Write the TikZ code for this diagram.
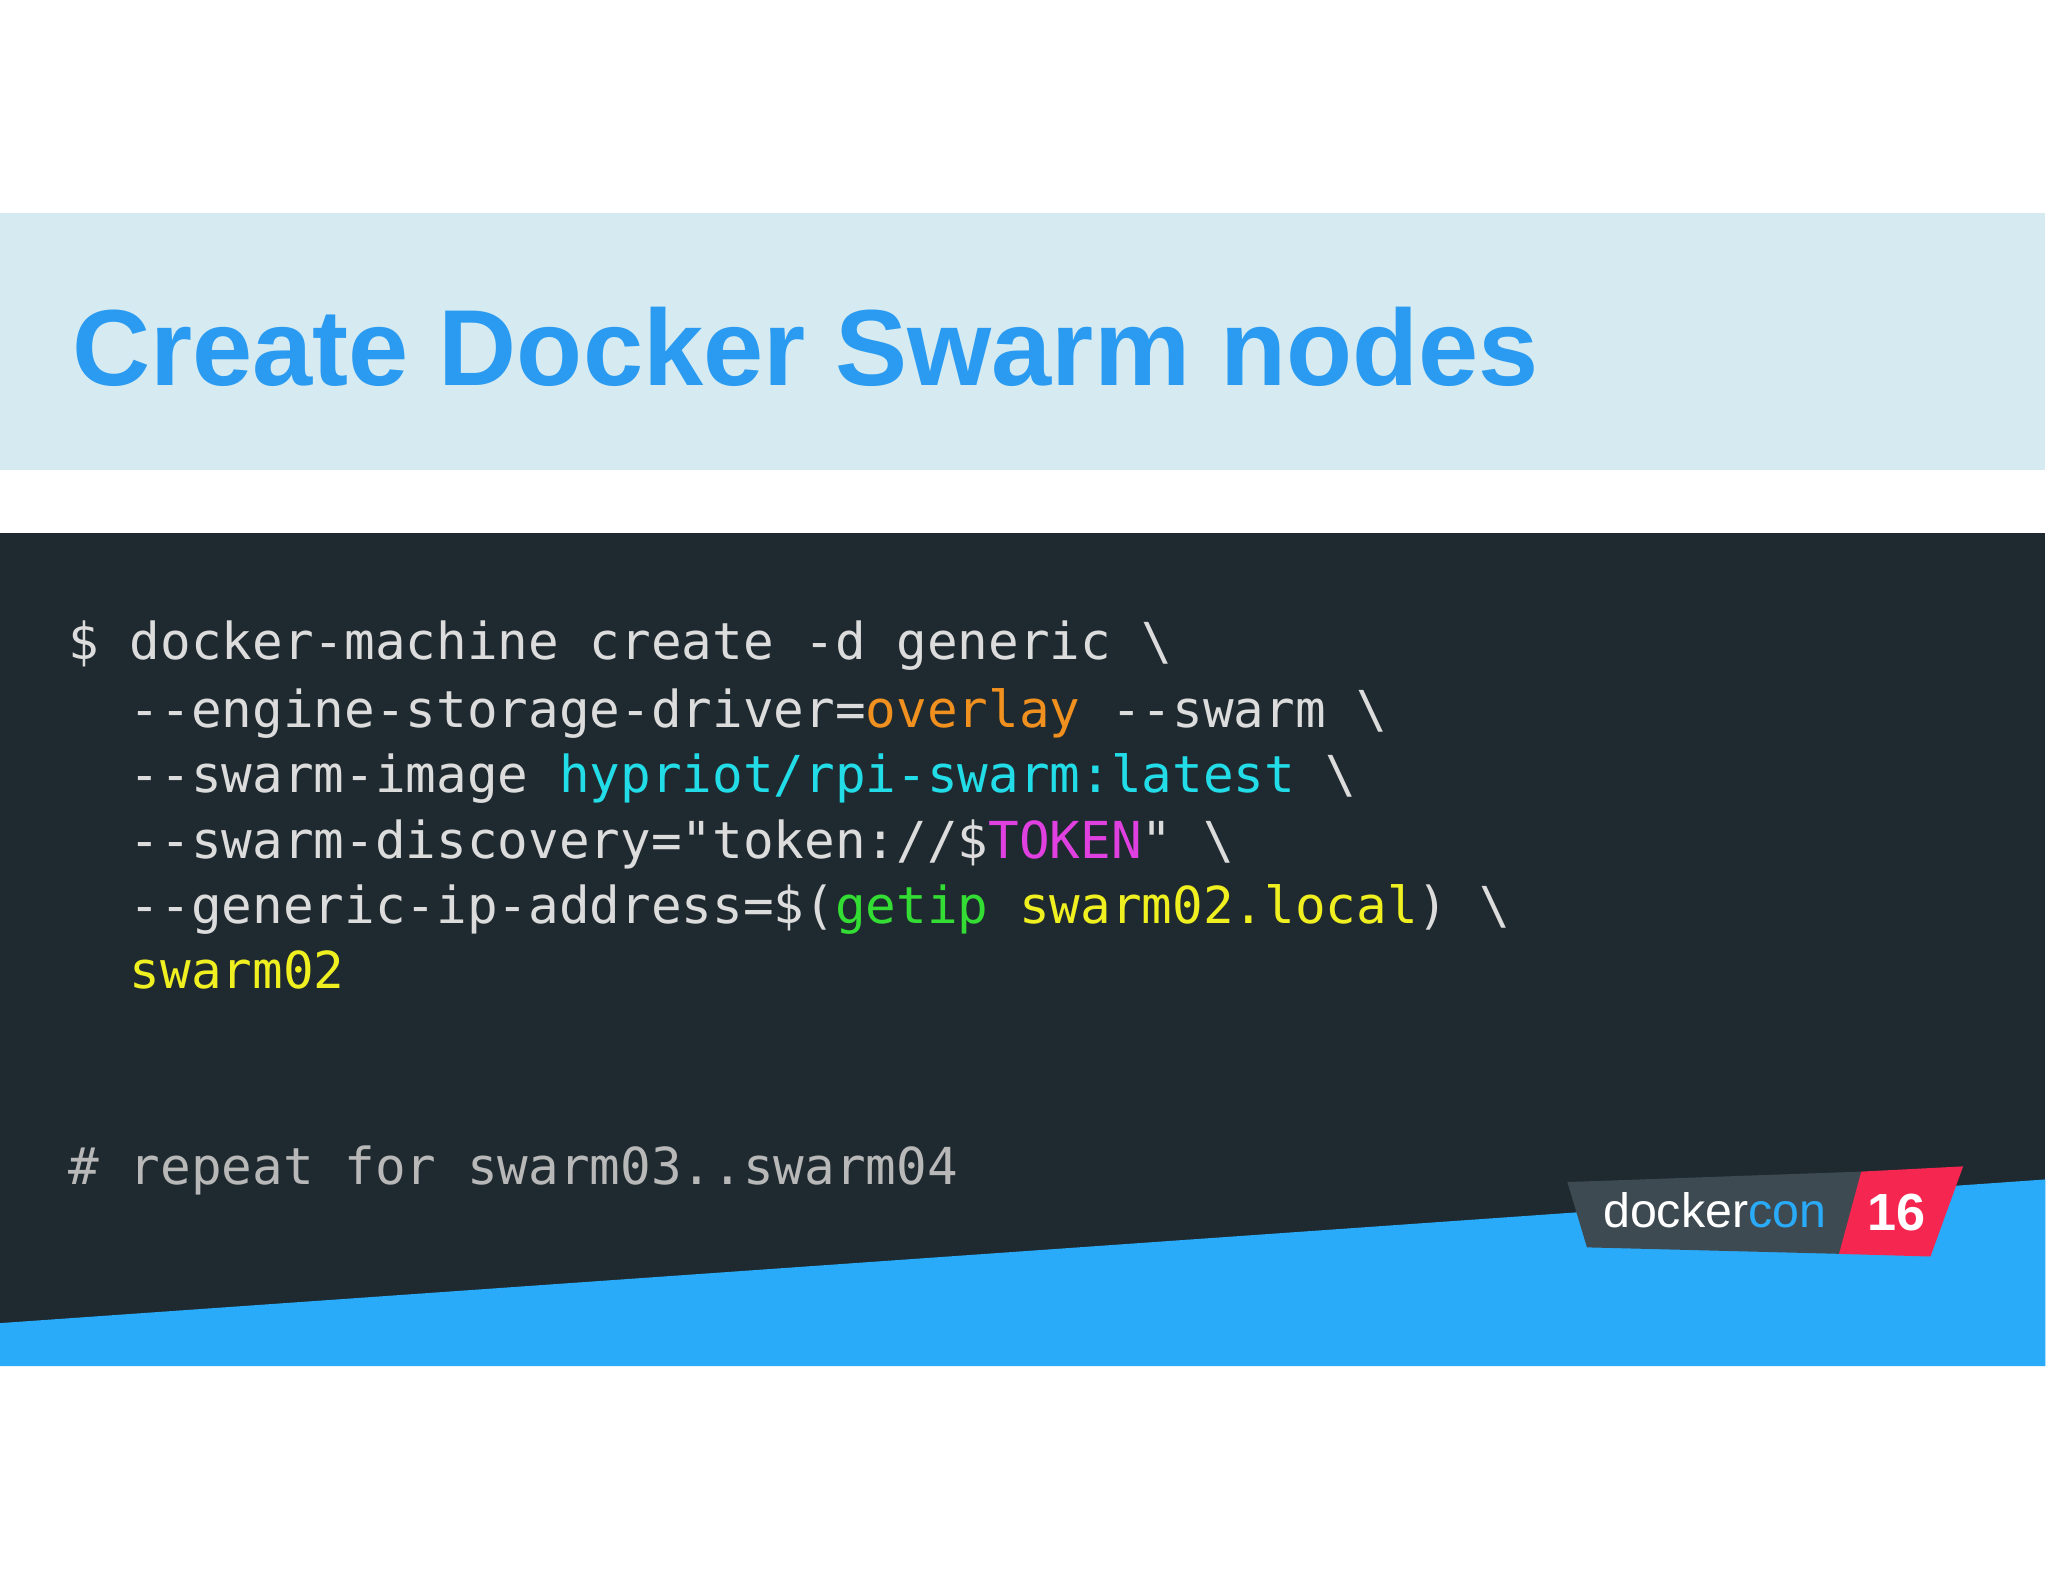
\documentclass[tikz,border=0pt]{standalone}
\usepackage{fontspec}
\setmainfont{Liberation Sans}
\newfontfamily\codefont{DejaVu Sans Mono}
\definecolor{band}{HTML}{D5EAF1}
\definecolor{ttl}{HTML}{2A9BF0}
\definecolor{panel}{HTML}{1F2A30}
\definecolor{blu}{HTML}{29ABF9}
\definecolor{cw}{HTML}{DCDCDC}
\definecolor{cor}{HTML}{F0901E}
\definecolor{ccy}{HTML}{22DDE8}
\definecolor{cmg}{HTML}{E040E0}
\definecolor{cgr}{HTML}{33DD33}
\definecolor{cye}{HTML}{F0F020}
\definecolor{cgy}{HTML}{B8B8B8}
\definecolor{lgray}{HTML}{3E4A52}
\definecolor{lred}{HTML}{F5264F}
\begin{document}
\begin{tikzpicture}[x=0.5pt,y=-0.5pt,
  code/.style={anchor=base west,inner sep=0,font=\codefont\fontsize{19.5}{22}\selectfont,text=cw}]
\useasboundingbox (0,0) rectangle (1568,1211);
\fill[white] (0,0) rectangle (1568,1211);
\fill[band] (0,163) rectangle (1566,360);
\node[anchor=base west,inner sep=0,text=ttl,font=\bfseries\fontsize{41.4}{44}\selectfont] (title) at (55,295) {Create Docker Swarm nodes};
\fill[panel] (0,408) rectangle (1566,1046);
\fill[blu] (0,1013) -- (1566,903) -- (1566,1046) -- (0,1046) -- cycle;
\node[code] (l1) at (52,505) {\$ docker-machine create -d generic \textbackslash};
\node[code] (l2) at (99,557) {--engine-storage-driver=\textcolor{cor}{overlay} --swarm \textbackslash};
\node[code] (l3) at (99,607) {--swarm-image \textcolor{ccy}{hypriot/rpi-swarm:latest} \textbackslash};
\node[code] (l4) at (99,657) {--swarm-discovery="token://\$\textcolor{cmg}{TOKEN}" \textbackslash};
\node[code] (l5) at (99,707) {--generic-ip-address=\$(\textcolor{cgr}{getip} \textcolor{cye}{swarm02.local}) \textbackslash};
\node[code] (l6) at (99,757) {\textcolor{cye}{swarm02}};
\node[code,text=cgy] (l7) at (52,907) {\# repeat for swarm03..swarm04};
% logo
\fill[lgray] (1200,905) -- (1425,897) -- (1410,960) -- (1215,955) -- cycle;
\fill[lred] (1425,897) -- (1503,893) -- (1478,962) -- (1408,960) -- cycle;
\node[anchor=base west,inner sep=0,font=\fontsize{18.5}{20}\selectfont] (logo) at (1227,940) {\textcolor{white}{docker}\textcolor{blu}{con}};
\node[anchor=base,inner sep=0,text=white,font=\bfseries\fontsize{20}{20}\selectfont] (yr) at (1452,942) {16};
\end{tikzpicture}
\end{document}
